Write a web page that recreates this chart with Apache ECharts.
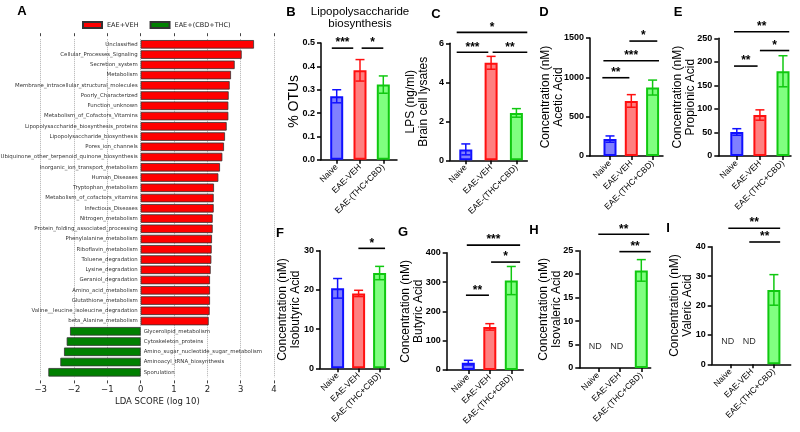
<!DOCTYPE html>
<html>
<head>
<meta charset="utf-8">
<title>LDA scores and SCFA panels</title>
<script src="https://cdn.jsdelivr.net/npm/echarts@6/dist/echarts.min.js"></script>
<style>
  html, body { margin: 0; padding: 0; background: #fff; }
  #main { width: 800px; height: 432px; }
</style>
</head>
<body>
<div id="main"></div>
<script>
// ---- panel A : LEfSe LDA scores ----
var ldaNames = [
  "Unclassified", "Cellular_Processes_Signaling", "Secretion_system", "Metabolism",
  "Membrane_intracellular_structural_molecules", "Poorly_Characterized", "Function_unknown",
  "Metabolism_of_Cofactors_Vitamins", "Lipopolysaccharide_biosynthesis_proteins",
  "Lipopolysaccharide_biosynthesis", "Pores_ion_channels",
  "Ubiquinone_other_terpenoid_quinone_biosynthesis", "Inorganic_ion_transport_metabolism",
  "Human_Diseases", "Tryptophan_metabolism", "Metabolism_of_cofactors_vitamins",
  "Infectious_Diseases", "Nitrogen_metabolism", "Protein_folding_associated_processing",
  "Phenylalanine_metabolism", "Riboflavin_metabolism", "Toluene_degradation",
  "Lysine_degradation", "Geraniol_degradation", "Amino_acid_metabolism",
  "Glutathione_metabolism", "Valine__leucine_isoleucine_degradation", "beta_Alanine_metabolism",
  "Glycerolipid_metabolism", "Cytoskeleton_proteins", "Amino_sugar_nucleotide_sugar_metabolism",
  "Aminoacyl_tRNA_biosynthesis", "Sporulation"
];
var ldaScores = [
  3.40, 3.03, 2.82, 2.71, 2.67, 2.64, 2.63, 2.63, 2.58, 2.53, 2.50, 2.45, 2.38, 2.33,
  2.20, 2.19, 2.19, 2.16, 2.16, 2.14, 2.13, 2.12, 2.10, 2.08, 2.08, 2.08, 2.07, 2.04,
  -2.12, -2.22, -2.30, -2.41, -2.77
];

// ---- panels B-I : mean and SEM per group ----
var groups = ["Naive", "EAE-VEH", "EAE-(THC+CBD)"];

var otuMean = [0.272, 0.383, 0.322];
var otuErr = [0.028, 0.046, 0.037];
var lpsMean = [0.56, 5.0, 2.43];
var lpsErr = [0.28, 0.33, 0.22];
var aceticMean = [215, 700, 870];
var aceticErr = [40, 80, 95];
var propionicMean = [51, 87, 180];
var propionicErr = [7, 11, 33];
var isobutyricMean = [20.4, 19.1, 24.3];
var isobutyricErr = [2.5, 0.8, 1.7];
var butyricMean = [25, 147, 305];
var butyricErr = [8, 11, 48];
var isovalericMean = [null, null, 20.8];
var isovalericErr = [0, 0, 2.3];
var valericMean = [null, null, 25.3];
var valericErr = [0, 0, 5.2];

// significance brackets: [from group, to group, level, stars]
var otuSig = [[-0.21, 0.71, 0.478, "***"], [1.07, 2.0, 0.478, "*"]];
var lpsSig = [[-0.36, 2.43, 6.56, "*"], [-0.36, 0.89, 5.54, "***"], [1.06, 2.43, 5.54, "**"]];
var aceticSig = [[0.91, 2.22, 1461, "*"], [-0.31, 2.3, 1211, "***"], [-0.36, 0.91, 995, "**"]];
var propionicSig = [[-0.12, 2.27, 264, "**"], [1.0, 2.27, 224, "*"], [-0.12, 0.9, 191, "**"]];
var isobutyricSig = [[0.99, 2.26, 30.6, "*"]];
var butyricSig = [[-0.07, 2.41, 426, "***"], [1.06, 2.41, 368, "*"], [-0.11, 0.96, 255, "**"]];
var isovalericSig = [[0, 2.37, 28.5, "**"], [0.98, 2.44, 24.8, "**"]];
var valericSig = [[-0.11, 2.29, 46.3, "**"], [0.86, 2.29, 41.6, "**"]];

var sans = "Liberation Sans, Arial, sans-serif";
var mpl = "DejaVu Sans, sans-serif";
var fills = ["#8080ff", "#ff8080", "#80ff80"];
var edges = ["#1010ff", "#ff1010", "#10c810"];

// layout of the small panels (pixels)
var panels = [
  { mean: otuMean, err: otuErr, sig: otuSig, yMax: 0.5, yStep: 0.1, fmt: function (v) { return v.toFixed(1); },
    yName: "% OTUs", nameSize: 14, nameGap: 20,
    axisX: 321, xEnd: 397, c0: 336.7, step: 23.3, top: 43, bottom: 159.8 },
  { mean: lpsMean, err: lpsErr, sig: lpsSig, yMax: 6, yStep: 2,
    yName: "LPS (ng/ml)\nBrain cell lysates", nameGap: 20,
    axisX: 450, xEnd: 527.3, c0: 465.8, step: 25.3, top: 43.3, bottom: 160.3 },
  { mean: aceticMean, err: aceticErr, sig: aceticSig, yMax: 1500, yStep: 500,
    yName: "Concentration (nM)\nAcetic Acid", nameGap: 25,
    axisX: 590, xEnd: 663, c0: 610, step: 21.3, top: 38, bottom: 156 },
  { mean: propionicMean, err: propionicErr, sig: propionicSig, yMax: 250, yStep: 50,
    yName: "Concentration (nM)\nPropionic Acid", nameGap: 21,
    axisX: 718.3, xEnd: 791, c0: 736.8, step: 23.1, top: 38.3, bottom: 156 },
  { mean: isobutyricMean, err: isobutyricErr, sig: isobutyricSig, yMax: 30, yStep: 10,
    yName: "Concentration (nM)\nIsobutyric Acid", nameGap: 18,
    axisX: 320, xEnd: 389.3, c0: 337.6, step: 21, top: 250.7, bottom: 368.3 },
  { mean: butyricMean, err: butyricErr, sig: butyricSig, yMax: 400, yStep: 100,
    yName: "Concentration (nM)\nButyric Acid", nameGap: 22,
    axisX: 446.7, xEnd: 523.3, c0: 468.3, step: 21.5, top: 252.7, bottom: 370 },
  { mean: isovalericMean, err: isovalericErr, sig: isovalericSig, yMax: 25, yStep: 5, ndLevel: 4.5,
    yName: "Concentration (nM)\nIsovaleric Acid", nameGap: 16,
    axisX: 579.3, xEnd: 650.7, c0: 598.3, step: 21.5, top: 250.7, bottom: 368 },
  { mean: valericMean, err: valericErr, sig: valericSig, yMax: 40, yStep: 10, ndLevel: 7.6,
    yName: "Concentration (nM)\nValeric Acid", nameGap: 18,
    axisX: 711.7, xEnd: 790.7, c0: 730.7, step: 21.6, top: 246.7, bottom: 364.3 }
];

var letters = [["A", 22, 11], ["B", 291, 12], ["C", 436, 14], ["D", 544, 12], ["E", 678, 12],
  ["F", 280, 233], ["G", 403, 232], ["H", 534, 230], ["I", 668, 228]];

var chart = echarts.init(document.getElementById("main"), null, { renderer: "canvas" });

var option = {
  animation: false,
  backgroundColor: "#fff",
  legend: {
    left: 77, top: 16, itemWidth: 19, itemHeight: 6, itemGap: 11,
    icon: "rect",
    textStyle: { fontSize: 6.5, fontFamily: mpl, color: "#222" },
    data: ["EAE+VEH", "EAE+(CBD+THC)"]
  },
  grid: [], xAxis: [], yAxis: [], series: [], graphic: []
};

// panel A
function addLdaPanel(opt) {
  opt.grid.push({ left: 40.7, top: 39.2, width: 233.3, height: 338.2, containLabel: false, outerBoundsMode: "none" });
  opt.xAxis.push({
    gridIndex: 0, type: "value", min: -3, max: 4, interval: 1, offset: 3,
    name: "LDA SCORE (log 10)", nameLocation: "middle", nameGap: 17, nameMoveOverlap: false,
    nameTextStyle: { fontSize: 8.5, fontFamily: mpl, color: "#222" },
    axisLine: { show: false },
    axisTick: { show: true, length: 3, lineStyle: { color: "#444" } },
    axisLabel: {
      fontSize: 8.5, fontFamily: mpl, color: "#222", margin: 5,
      formatter: function (v) { return v < 0 ? "\u2212" + (-v) : String(v); }
    },
    splitLine: { show: true, lineStyle: { type: "dotted", color: "#b0b0b0" } }
  });
  opt.xAxis.push({
    gridIndex: 0, type: "value", position: "top", min: -3, max: 4, interval: 1, offset: 3,
    axisLine: { show: false }, axisLabel: { show: false }, splitLine: { show: false },
    axisTick: { show: true, length: 3, lineStyle: { color: "#444" } }
  });
  opt.yAxis.push({
    gridIndex: 0, type: "category", inverse: true, data: ldaNames,
    axisLine: { show: false }, axisTick: { show: false }, axisLabel: { show: false }
  });
  var labelBase = { show: true, fontSize: 5.4, fontFamily: mpl, color: "#333", distance: 3, formatter: "{b}" };
  opt.series.push({
    name: "EAE+VEH", type: "bar", xAxisIndex: 0, yAxisIndex: 0, stack: "lda", barWidth: 8.5,
    itemStyle: { color: "#ff0000", borderColor: "#333", borderWidth: 0.8 },
    label: Object.assign({ position: "left" }, labelBase),
    data: ldaScores.map(function (v) { return v > 0 ? v : "-"; })
  });
  opt.series.push({
    name: "EAE+(CBD+THC)", type: "bar", xAxisIndex: 0, yAxisIndex: 0, stack: "lda", barWidth: 8.5,
    itemStyle: { color: "#008000", borderColor: "#333", borderWidth: 0.8 },
    label: Object.assign({ position: "right" }, labelBase),
    data: ldaScores.map(function (v) { return v < 0 ? v : "-"; })
  });
}

// one small bar panel (B-I)
function addBarPanel(opt, p) {
  var g = opt.grid.length;
  var xi = opt.xAxis.length;
  var yi = opt.yAxis.length;
  var xMin = (p.axisX - p.c0) / p.step;
  var xMax = 2 + (p.xEnd - (p.c0 + 2 * p.step)) / p.step;

  opt.grid.push({ left: p.axisX, top: p.top, width: p.xEnd - p.axisX, height: p.bottom - p.top,
    containLabel: false, outerBoundsMode: "none" });
  opt.xAxis.push({
    gridIndex: g, type: "value", min: xMin, max: xMax,
    axisLine: { show: true, onZero: false, lineStyle: { color: "#000", width: 1.5 } },
    axisTick: { show: true, customValues: [0, 1, 2], length: 4, lineStyle: { color: "#000", width: 1.5 } },
    axisLabel: {
      customValues: [0, 1, 2], rotate: 45, fontSize: 8.5, fontFamily: sans, color: "#000", margin: 6,
      formatter: function (v) { return groups[Math.round(v)]; }
    },
    splitLine: { show: false }
  });
  opt.yAxis.push({
    gridIndex: g, type: "value", min: 0, max: p.yMax, interval: p.yStep,
    name: p.yName, nameLocation: "middle", nameGap: p.nameGap, nameRotate: 90, nameMoveOverlap: false,
    nameTextStyle: { fontSize: p.nameSize || 12, lineHeight: 13, fontFamily: sans, color: "#000" },
    axisLine: { show: true, onZero: false, lineStyle: { color: "#000", width: 1.5 } },
    axisTick: { show: true, length: 4, lineStyle: { color: "#000", width: 1.5 } },
    axisLabel: { fontSize: 9, fontWeight: "bold", fontFamily: sans, color: "#000", margin: 6,
      formatter: p.fmt || function (v) { return String(v); } },
    splitLine: { show: false }
  });

  var bars = [];
  var errs = [];
  p.mean.forEach(function (v, i) {
    if (v == null) return;
    bars.push({ value: [i, v], itemStyle: { color: fills[i], borderColor: edges[i], borderWidth: 2 } });
    errs.push([i, v, p.err[i], i]);
  });

  opt.series.push({ type: "bar", xAxisIndex: xi, yAxisIndex: yi, barWidth: 13, z: 2, data: bars });

  // error bars with caps
  opt.series.push({
    type: "custom", xAxisIndex: xi, yAxisIndex: yi, z: 3, data: errs,
    renderItem: function (params, api) {
      var x = api.value(0), m = api.value(1), e = api.value(2);
      var hi = api.coord([x, m + e]);
      var lo = api.coord([x, m - e]);
      var st = { stroke: edges[api.value(3)], lineWidth: 1.5 };
      return { type: "group", children: [
        { type: "line", shape: { x1: hi[0], y1: hi[1], x2: lo[0], y2: lo[1] }, style: st },
        { type: "line", shape: { x1: hi[0] - 4.5, y1: hi[1], x2: hi[0] + 4.5, y2: hi[1] }, style: st },
        { type: "line", shape: { x1: lo[0] - 4.5, y1: lo[1], x2: lo[0] + 4.5, y2: lo[1] }, style: st }
      ] };
    }
  });

  // significance brackets
  opt.series.push({
    type: "custom", xAxisIndex: xi, yAxisIndex: yi, z: 4,
    data: p.sig.map(function (s) { return [s[0], s[1], s[2]]; }),
    renderItem: function (params, api) {
      var a = api.coord([api.value(0), api.value(2)]);
      var b = api.coord([api.value(1), api.value(2)]);
      return { type: "group", children: [
        { type: "line", shape: { x1: a[0], y1: a[1], x2: b[0], y2: b[1] }, style: { stroke: "#000", lineWidth: 1.6 } },
        { type: "text", style: { x: (a[0] + b[0]) / 2, y: a[1] + 1, text: p.sig[params.dataIndex][3],
          font: "bold 12px " + sans, fill: "#000", textAlign: "center", textVerticalAlign: "bottom" } }
      ] };
    }
  });

  // "ND" for groups with nothing detected
  if (p.ndLevel != null) {
    var nd = [];
    p.mean.forEach(function (v, i) { if (v == null) nd.push([i, p.ndLevel]); });
    opt.series.push({
      type: "custom", xAxisIndex: xi, yAxisIndex: yi, z: 4, data: nd,
      renderItem: function (params, api) {
        var c = api.coord([api.value(0), api.value(1)]);
        return { type: "text", style: { x: c[0] - 3, y: c[1], text: "ND", font: "9px " + sans,
          fill: "#333", textAlign: "center", textVerticalAlign: "middle" } };
      }
    });
  }
}

addLdaPanel(option);
panels.forEach(function (p) { addBarPanel(option, p); });

letters.forEach(function (l) {
  option.graphic.push({ type: "text", style: { x: l[1], y: l[2], text: l[0], font: "bold 13px " + sans,
    fill: "#000", textAlign: "center", textVerticalAlign: "middle" } });
});
option.graphic.push({ type: "text", style: { x: 360, y: 18, text: "Lipopolysaccharide\nbiosynthesis",
  font: "11.5px " + sans, lineHeight: 12.5, fill: "#000", textAlign: "center", textVerticalAlign: "middle" } });

chart.setOption(option);
</script>
</body>
</html>
